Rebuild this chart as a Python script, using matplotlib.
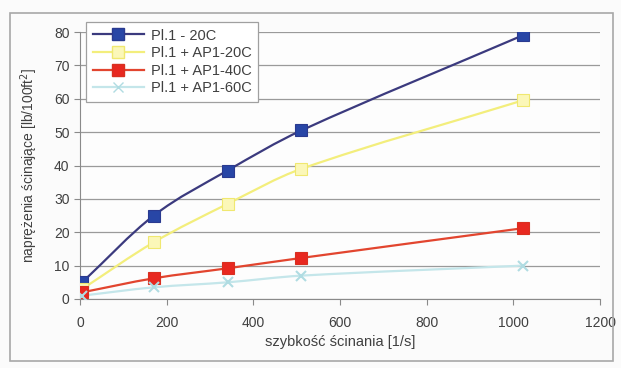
import numpy as np
import matplotlib
matplotlib.use("Agg")
import matplotlib.pyplot as plt
from matplotlib.path import Path
from matplotlib.patches import PathPatch, Rectangle
from matplotlib.lines import Line2D

plt.rcParams["font.family"] = ["Liberation Sans", "DejaVu Sans"]

# szybkości ścinania (obroty wiskozymetru x 1.703)
shear_rate = [5.1, 170.3, 340.6, 510.9, 1021.8]

labels = ["Pl.1 - 20C", "Pl.1 + AP1-20C", "Pl.1 + AP1-40C", "Pl.1 + AP1-60C"]
stress_20 = [5, 25, 38.5, 50.5, 79]
stress_ap_20 = [3, 17, 28.5, 39, 59.5]
stress_ap_40 = [2, 6.2, 9.2, 12.3, 21.2]
stress_ap_60 = [1, 3.5, 5, 7, 10]
series = [stress_20, stress_ap_20, stress_ap_40, stress_ap_60]

line_colors = ["#3b3a7e", "#f3ee7c", "#e2452f", "#c4e6ea"]
marker_face = ["#2846a6", "#fbf7b8", "#e82820", "#c4e6ea"]
marker_edge = ["#2a3a90", "#f0e870", "#d83020", "#b0dce2"]
markers = ["s", "s", "s", "x"]
msizes = [8, 8, 8, 7]

W, H = 621, 368
fig = plt.figure(figsize=(W / 100, H / 100), dpi=100)
fig.patch.set_facecolor("#fbfbfb")
ax = fig.add_axes([80 / W, 1 - 299 / H, 520 / W, 267 / H])
ax.set_facecolor("#fdfdfd")

# ramka wykresu
fig.patches.append(Rectangle((10 / W, 1 - 361 / H), 603 / W, 348 / H,
                             transform=fig.transFigure, fill=False,
                             edgecolor="#a8a8a8", lw=1.2))


def smooth_path(x, y):
    # wygładzona linia: odcinki Beziera ze stycznymi z różnic centralnych
    x = np.asarray(x, float)
    y = np.asarray(y, float)
    n = len(x)
    m = np.empty(n)
    m[0] = (y[1] - y[0]) / (x[1] - x[0])
    m[-1] = (y[-1] - y[-2]) / (x[-1] - x[-2])
    for i in range(1, n - 1):
        m[i] = (y[i + 1] - y[i - 1]) / (x[i + 1] - x[i - 1])
    verts = [(x[0], y[0])]
    codes = [Path.MOVETO]
    for i in range(n - 1):
        d = (x[i + 1] - x[i]) / 3
        verts += [(x[i] + d, y[i] + m[i] * d),
                  (x[i + 1] - d, y[i + 1] - m[i + 1] * d),
                  (x[i + 1], y[i + 1])]
        codes += [Path.CURVE4] * 3
    return Path(verts, codes)


handles = []
for k, ys in enumerate(series):
    ax.add_patch(PathPatch(smooth_path(shear_rate, ys), fill=False,
                           edgecolor=line_colors[k], lw=1.6, zorder=3 + k * 0.1))
    ax.plot(shear_rate, ys, linestyle="none", marker=markers[k], ms=msizes[k],
            mfc=marker_face[k], mec=marker_edge[k], mew=1.5 if k == 3 else 0.8,
            zorder=4 + k * 0.1)
    handles.append(Line2D([], [], color=line_colors[k], lw=1.6, marker=markers[k],
                          ms=msizes[k], mfc=marker_face[k], mec=marker_edge[k]))

ax.set_xlim(0, 1200)
ax.set_ylim(0, 80)
ax.set_xticks(range(0, 1201, 200))
ax.set_yticks(range(0, 81, 10))
ax.grid(axis="y", color="#9a9a9a", lw=0.9)
ax.set_axisbelow(True)
for s in ["top", "right"]:
    ax.spines[s].set_visible(False)
for s in ["left", "bottom"]:
    ax.spines[s].set_color("#8a8a8a")
ax.tick_params(axis="both", colors="#8a8a8a", labelcolor="#404040",
               labelsize=10, length=4, direction="out")
ax.tick_params(axis="x", pad=8)

ax.set_xlabel("szybkość ścinania [1/s]", fontsize=10.5, color="#404040", labelpad=4)
ax.set_ylabel("naprężenia ścinające [lb/100ft$^2$]", fontsize=10, color="#404040",
              labelpad=10)

leg = ax.legend(handles, labels, loc="upper left",
                bbox_to_anchor=(86 / W, 1 - 22 / H), bbox_transform=fig.transFigure,
                borderaxespad=0, fontsize=10.5, handlelength=3.5, labelspacing=0.25,
                borderpad=0.45, handletextpad=0.5, fancybox=False, framealpha=1)
leg.get_frame().set_edgecolor("#a0a0a0")
leg.get_frame().set_linewidth(0.9)
for t in leg.get_texts():
    t.set_color("#404040")

fig.savefig("out.png", dpi=100)
